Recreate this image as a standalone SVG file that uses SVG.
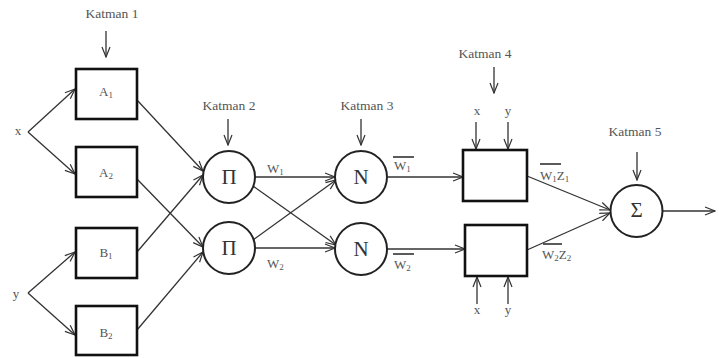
<svg xmlns="http://www.w3.org/2000/svg" width="719" height="358" viewBox="0 0 719 358" font-family="'Liberation Serif', 'Times New Roman', serif">
<defs>
<marker id="ah" viewBox="0 0 12 10" refX="11" refY="5" markerWidth="12" markerHeight="10" markerUnits="userSpaceOnUse" orient="auto">
<path d="M1,1 L11,5 L1,9" fill="none" stroke="#333" stroke-width="1.2"/>
</marker>
<style>
.bx{fill:#fff;stroke:#111;stroke-width:2.6}
.cr{fill:#fff;stroke:#222;stroke-width:2}
.ln{fill:none;stroke:#333;stroke-width:1.3;marker-end:url(#ah)}
.bar{stroke:#333;stroke-width:1.6}
text{font-family:'Liberation Serif','Times New Roman',serif;fill:#555}
.k{font-size:13.5px;text-anchor:middle}
.l{font-size:13px;text-anchor:middle}
.w{font-size:13px}
.s{font-size:9px}
.sym{font-size:21px;text-anchor:middle;fill:#333}
</style>
</defs>
<g id="connectors">
<line class="ln" x1="106" y1="31" x2="106" y2="57"/>
<line class="ln" x1="228" y1="119" x2="228" y2="145"/>
<line class="ln" x1="361" y1="119" x2="361" y2="145"/>
<line class="ln" x1="494" y1="67" x2="494" y2="93"/>
<line class="ln" x1="637" y1="152" x2="637" y2="180"/>
<line class="ln" x1="28" y1="132" x2="75" y2="89"/>
<line class="ln" x1="28" y1="132" x2="75" y2="174"/>
<line class="ln" x1="28" y1="293" x2="75" y2="252"/>
<line class="ln" x1="28" y1="293" x2="75" y2="335"/>
<line class="ln" x1="137" y1="100" x2="203" y2="171"/>
<line class="ln" x1="137" y1="179" x2="203" y2="247"/>
<line class="ln" x1="137" y1="252" x2="203" y2="175"/>
<line class="ln" x1="137" y1="330" x2="203" y2="252"/>
<line class="ln" x1="255" y1="177" x2="335" y2="177"/>
<line class="ln" x1="255" y1="248" x2="335" y2="248"/>
<line class="ln" x1="253" y1="186" x2="336" y2="245"/>
<line class="ln" x1="253" y1="240" x2="336" y2="180"/>
<line class="ln" x1="388" y1="177" x2="463" y2="177"/>
<line class="ln" x1="387" y1="249" x2="465" y2="249"/>
<line class="ln" x1="476" y1="122" x2="476" y2="149"/>
<line class="ln" x1="508" y1="122" x2="508" y2="149"/>
<line class="ln" x1="477" y1="304" x2="477" y2="277"/>
<line class="ln" x1="508" y1="304" x2="508" y2="277"/>
<line class="ln" x1="527" y1="176" x2="610" y2="210"/>
<line class="ln" x1="527" y1="250" x2="610" y2="213"/>
<line class="ln" x1="663" y1="211" x2="715" y2="211"/>
</g>
<g id="labels">
<text class="k" x="112" y="18">Katman 1</text>
<text class="k" x="229" y="110">Katman 2</text>
<text class="k" x="367" y="110">Katman 3</text>
<text class="k" x="485" y="58">Katman 4</text>
<text class="k" x="635" y="136">Katman 5</text>
<text class="l" x="18" y="135">x</text>
<text class="l" x="16" y="298">y</text>
<text class="l" x="477" y="115">x</text>
<text class="l" x="508" y="115">y</text>
<text class="l" x="477" y="314">x</text>
<text class="l" x="508" y="314">y</text>
<text class="w" x="267" y="173">W<tspan class="s" dy="2">1</tspan></text>
<text class="w" x="267" y="268">W<tspan class="s" dy="2">2</tspan></text>
<line class="bar" x1="393" y1="157" x2="414" y2="157"/>
<text class="w" x="394" y="170">W<tspan class="s" dy="2">1</tspan></text>
<line class="bar" x1="393" y1="254" x2="414" y2="254"/>
<text class="w" x="394" y="269">W<tspan class="s" dy="2">2</tspan></text>
<line class="bar" x1="540" y1="164" x2="561" y2="164"/>
<text class="w" x="540" y="180">W<tspan class="s" dy="2">1</tspan><tspan dy="-2">Z</tspan><tspan class="s" dy="2">1</tspan></text>
<line class="bar" x1="543" y1="244" x2="562" y2="244"/>
<text class="w" x="542" y="259">W<tspan class="s" dy="2">2</tspan><tspan dy="-2">Z</tspan><tspan class="s" dy="2">2</tspan></text>
</g>
<g id="A1"><rect class="bx" x="76" y="69" width="61" height="50"/><text class="l" x="106" y="96">A<tspan class="s" dy="2">1</tspan></text></g>
<g id="A2"><rect class="bx" x="76" y="147" width="61" height="50"/><text class="l" x="106" y="177">A<tspan class="s" dy="2">2</tspan></text></g>
<g id="B1"><rect class="bx" x="76" y="228" width="61" height="50"/><text class="l" x="106" y="257">B<tspan class="s" dy="2">1</tspan></text></g>
<g id="B2"><rect class="bx" x="76" y="306" width="61" height="49"/><text class="l" x="106" y="337">B<tspan class="s" dy="2">2</tspan></text></g>
<g id="P1"><circle class="cr" cx="229" cy="177" r="26"/><text class="sym" x="229" y="184">Π</text></g>
<g id="P2"><circle class="cr" cx="229" cy="248" r="26"/><text class="sym" x="229" y="255">Π</text></g>
<g id="N1"><circle class="cr" cx="361" cy="177" r="26"/><text class="sym" x="361" y="184">N</text></g>
<g id="N2"><circle class="cr" cx="361" cy="249" r="26"/><text class="sym" x="361" y="256">N</text></g>
<g id="L4a"><rect class="bx" x="463" y="150" width="64" height="51"/></g>
<g id="L4b"><rect class="bx" x="465" y="225" width="62" height="51"/></g>
<g id="S"><circle class="cr" cx="636.5" cy="211" r="26"/><text class="sym" x="636.5" y="217" font-size="17">Σ</text></g>
</svg>
